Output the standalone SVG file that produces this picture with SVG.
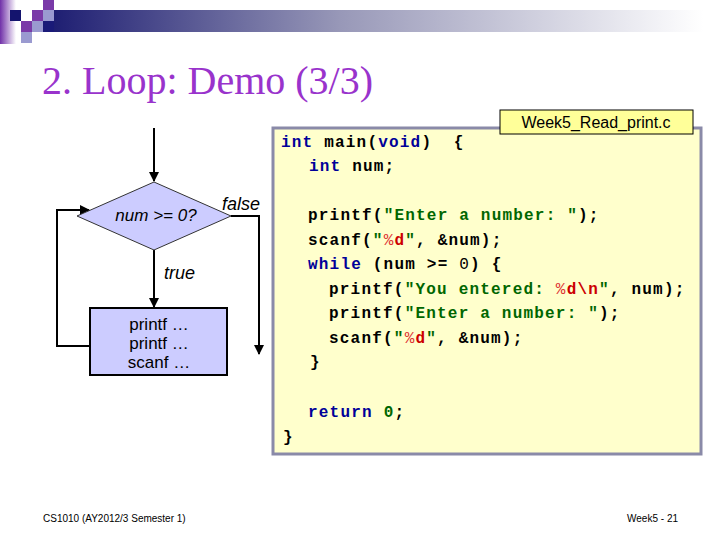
<svg xmlns="http://www.w3.org/2000/svg" width="720" height="540" viewBox="0 0 720 540">
<defs>
<linearGradient id="bar" x1="0" y1="0" x2="1" y2="0">
<stop offset="0" stop-color="#1a1a70"/>
<stop offset="0.45" stop-color="#9898b8"/>
<stop offset="1" stop-color="#ffffff"/>
</linearGradient>
<linearGradient id="strip" x1="0" y1="0" x2="1" y2="0">
<stop offset="0" stop-color="#7030a8"/>
<stop offset="1" stop-color="#ffffff"/>
</linearGradient>
<marker id="arr" viewBox="0 0 10 10" refX="9" refY="5" markerWidth="5" markerHeight="5" orient="auto">
<path d="M0,0 L10,5 L0,10 z" fill="#000"/>
</marker>
<style>
.code{font-family:"Liberation Mono","Courier New",monospace;font-weight:bold;font-size:16px;letter-spacing:1.2px;fill:#000;white-space:pre}
.kw{fill:#000099}
.str{fill:#006600}
.fmt{fill:#cc0000}
.fmtl{fill:#dd3333;font-weight:normal}
.lbl{font-family:"Liberation Sans",Arial,sans-serif;font-size:18px;font-style:italic;fill:#000}
.cond{font-family:"Liberation Sans",Arial,sans-serif;font-size:17px;font-style:italic;fill:#000}
.box{font-family:"Liberation Sans",Arial,sans-serif;font-size:17px;fill:#000}
.foot{font-family:"Liberation Sans",Arial,sans-serif;font-size:10px;fill:#000}
.wire{stroke:#000;stroke-width:2;fill:none}
</style>
</defs>
<rect width="720" height="540" fill="#fff"/>
<g id="header">
<rect x="0" y="0" width="16" height="44" fill="url(#strip)"/>
<rect x="43" y="10" width="660" height="22" fill="url(#bar)"/>
<rect x="10" y="10" width="11" height="11" fill="#14146e"/>
<rect x="32" y="10" width="11" height="11" fill="#7a3aa8"/>
<rect x="43" y="0" width="11" height="10" fill="#7a3aa8"/>
<rect x="43" y="10" width="11" height="11" fill="#9a9ad0"/>
<rect x="21" y="21" width="11" height="11" fill="#7a3aa8"/>
<rect x="32" y="21" width="11" height="11" fill="#9a9ad0"/>
<rect x="43" y="21" width="11" height="11" fill="#1a1a78"/>
<rect x="21" y="32" width="11" height="11" fill="#9a9ad0"/>
</g>
<text x="42" y="94" font-family="'Liberation Serif','Times New Roman',serif" font-size="40" fill="#9933cc">2. Loop: Demo (3/3)</text>
<g id="code">
<rect x="273" y="128" width="428" height="326" fill="#ffffcc" stroke="#8a8aa8" stroke-width="3"/>
<text class="code" x="281" y="147"><tspan class="kw">int</tspan> main(<tspan class="kw">void</tspan>)  {</text>
<text class="code" x="309" y="171"><tspan class="kw">int</tspan> num;</text>
<text class="code" x="308" y="220">printf(<tspan class="str">"Enter a number: "</tspan>);</text>
<text class="code" x="308" y="245">scanf(<tspan class="str">"</tspan><tspan class="fmtl">%</tspan><tspan class="fmt">d</tspan><tspan class="str">"</tspan>, &amp;num);</text>
<text class="code" x="308" y="269"><tspan class="kw">while</tspan> (num &gt;= <tspan font-weight="normal">0</tspan>) {</text>
<text class="code" x="329" y="294">printf(<tspan class="str">"You entered: </tspan><tspan class="fmtl">%</tspan><tspan class="fmt">d\n</tspan><tspan class="str">"</tspan>, num);</text>
<text class="code" x="329" y="318">printf(<tspan class="str">"Enter a number: "</tspan>);</text>
<text class="code" x="329" y="343">scanf(<tspan class="str">"</tspan><tspan class="fmtl">%</tspan><tspan class="fmt">d</tspan><tspan class="str">"</tspan>, &amp;num);</text>
<text class="code" x="310" y="367">}</text>
<text class="code" x="308" y="417"><tspan class="kw">return</tspan> <tspan class="str">0</tspan>;</text>
<text class="code" x="283" y="442">}</text>
</g>
<g id="filename">
<rect x="500" y="110" width="193" height="24" fill="#ffff99" stroke="#000" stroke-width="1"/>
<text x="596" y="128" text-anchor="middle" font-family="'Liberation Sans',Arial,sans-serif" font-size="16" fill="#000">Week5_Read_print.c</text>
</g>
<g id="connectors">
<line class="wire" x1="154" y1="128" x2="154" y2="181" marker-end="url(#arr)"/>
<line class="wire" x1="154" y1="250" x2="154" y2="307" marker-end="url(#arr)"/>
<polyline class="wire" points="231,216 259,216 259,354" marker-end="url(#arr)"/>
<polyline class="wire" points="90,346 57,346 57,210 89,210" marker-end="url(#arr)"/>
<text class="lbl" x="222" y="210">false</text>
<text class="lbl" x="164" y="279">true</text>
</g>
<g id="decision">
<polygon points="154,182 231,216 154,250 77,216" fill="#ccccff" stroke="#333" stroke-width="1"/>
<text class="cond" x="156" y="221" text-anchor="middle">num &gt;= 0?</text>
</g>
<g id="body">
<rect x="90" y="308" width="137" height="67" fill="#ccccff" stroke="#000" stroke-width="2"/>
<text class="box" x="159" y="330" text-anchor="middle">printf …</text>
<text class="box" x="159" y="349" text-anchor="middle">printf …</text>
<text class="box" x="159" y="368" text-anchor="middle">scanf …</text>
</g>
<text class="foot" x="43" y="522">CS1010 (AY2012/3 Semester 1)</text>
<text class="foot" x="678" y="522" text-anchor="end">Week5 - 21</text>
</svg>
